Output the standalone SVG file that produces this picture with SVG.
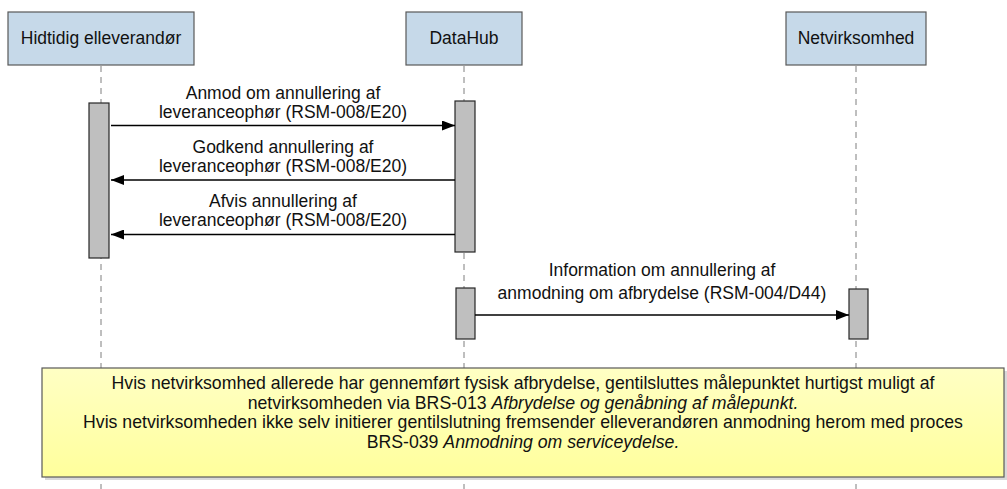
<svg xmlns="http://www.w3.org/2000/svg" width="1007" height="489" viewBox="0 0 1007 489">
<defs>
<style>
.t{font-family:"Liberation Sans",Arial,sans-serif;font-size:17.5px;fill:#111;text-anchor:middle}
.n{font-size:17.7px}
.i{font-style:italic}
.part{fill:#c6d9e9;stroke:#595959;stroke-width:1.2}
.act{fill:#bfbfbf;stroke:#262626;stroke-width:1.2}
.life{stroke:#7f7f7f;stroke-width:1;stroke-dasharray:6,5;fill:none}
.msg{stroke:#000;stroke-width:1.5;fill:none;marker-end:url(#ah)}
</style>
<marker id="ah" viewBox="0 0 13 10" refX="13" refY="5" markerWidth="13" markerHeight="10" markerUnits="userSpaceOnUse" orient="auto">
<path d="M0,0 L13,5 L0,10 Z" fill="#000"/>
</marker>
<linearGradient id="ng" x1="0" y1="0" x2="0" y2="1">
<stop offset="0" stop-color="#ffffc4"/>
<stop offset="1" stop-color="#ffff9c"/>
</linearGradient>
</defs>
<rect width="1007" height="489" fill="#fff"/>
<g id="lifelines">
<line class="life" x1="101" y1="66" x2="101" y2="489"/>
<line class="life" x1="464" y1="66" x2="464" y2="489"/>
<line class="life" x1="856" y1="66" x2="856" y2="489"/>
</g>
<g id="p-hidtidig">
<rect class="part" x="8" y="12" width="186" height="53"/>
<text class="t" x="101" y="44">Hidtidig elleverandør</text>
</g>
<g id="p-datahub">
<rect class="part" x="406" y="12" width="116" height="53"/>
<text class="t" x="464" y="44">DataHub</text>
</g>
<g id="p-netvirksomhed">
<rect class="part" x="786" y="12" width="140" height="53"/>
<text class="t" x="856" y="44">Netvirksomhed</text>
</g>
<g id="activations">
<rect class="act" x="89" y="103" width="20" height="155"/>
<rect class="act" x="455" y="101" width="20" height="151"/>
<rect class="act" x="456" y="288" width="19" height="51"/>
<rect class="act" x="849" y="289" width="19" height="50"/>
</g>
<g id="connectors">
<line class="msg" x1="111" y1="125.5" x2="455" y2="125.5"/>
<line class="msg" x1="455" y1="180" x2="111" y2="180"/>
<line class="msg" x1="455" y1="234.5" x2="111" y2="234.5"/>
<line class="msg" x1="475" y1="315" x2="849" y2="315"/>
</g>
<g id="labels">
<text class="t" x="283" y="99">Anmod om annullering af</text>
<text class="t" x="283" y="118">leveranceophør (RSM-008/E20)</text>
<text class="t" x="283" y="153">Godkend annullering af</text>
<text class="t" x="283" y="172">leveranceophør (RSM-008/E20)</text>
<text class="t" x="283" y="207">Afvis annullering af</text>
<text class="t" x="283" y="226">leveranceophør (RSM-008/E20)</text>
<text class="t" x="662" y="276">Information om annullering af</text>
<text class="t" x="662" y="299">anmodning om afbrydelse (RSM-004/D44)</text>
</g>
<g id="note">
<rect x="45" y="371" width="962" height="109" fill="#d9d9d9"/>
<rect x="42" y="368" width="962" height="109" fill="url(#ng)" stroke="#595959" stroke-width="1.2"/>
<text class="t n" x="523" y="389">Hvis netvirksomhed allerede har gennemført fysisk afbrydelse, gentilsluttes målepunktet hurtigst muligt af</text>
<text class="t n" x="523" y="408.5">netvirksomheden via BRS-013 <tspan class="i">Afbrydelse og genåbning af målepunkt.</tspan></text>
<text class="t n" x="523" y="428">Hvis netvirksomheden ikke selv initierer gentilslutning fremsender elleverandøren anmodning herom med proces</text>
<text class="t n" x="523" y="447.5">BRS-039 <tspan class="i">Anmodning om serviceydelse.</tspan></text>
</g>
</svg>
